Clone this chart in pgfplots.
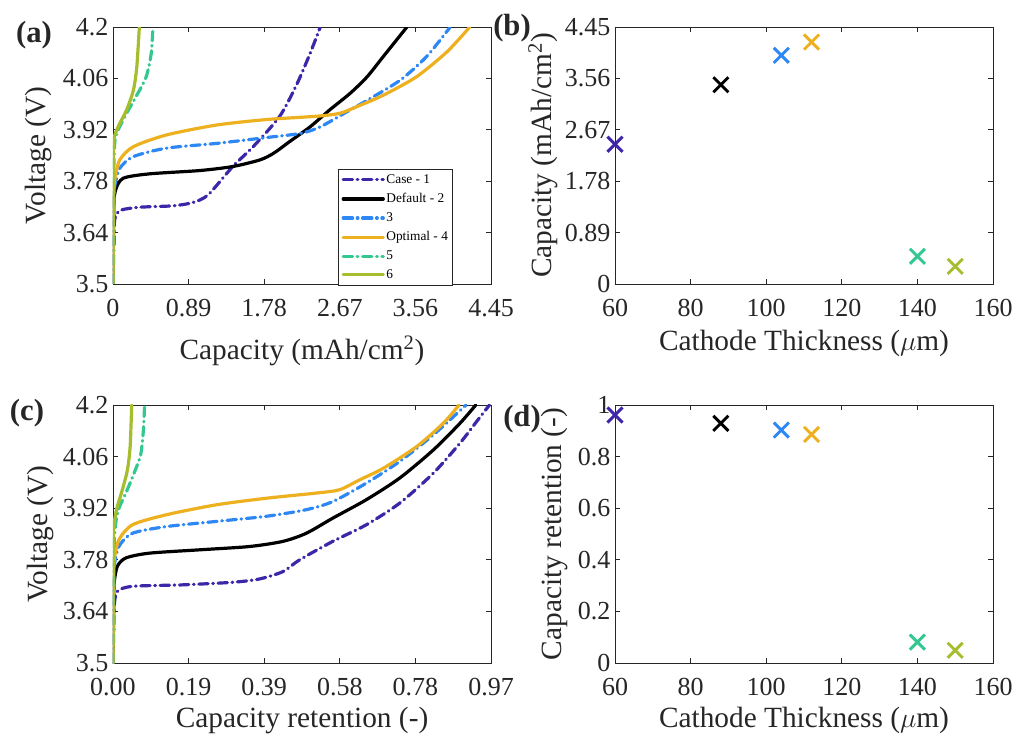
\documentclass[border=0pt]{standalone}
\usepackage{fontspec}
\setmainfont{Liberation Serif}
\usepackage{pgfplots}
\pgfplotsset{compat=1.18}

\definecolor{cOne}{RGB}{62,38,168}
\definecolor{cThree}{RGB}{45,135,245}
\definecolor{cFour}{RGB}{237,177,32}
\definecolor{cFive}{RGB}{52,200,145}
\definecolor{cSix}{RGB}{166,190,45}
\definecolor{axgray}{RGB}{38,38,38}

\pgfplotsset{
  panel/.style={
    scale only axis, width=283.5pt, height=192.75pt,
    axis line style={axgray, line width=0.6pt},
    tick align=inside, major tick length=4pt,
    tick style={axgray, line width=0.6pt},
    tick label style={font=\fontsize{19.5}{22}\selectfont, text=axgray},
    xticklabel style={yshift=-8pt},
    /pgf/number format/assume math mode=true,
    label style={font=\fontsize{22}{26}\selectfont, text=axgray},
  },
  vline/.style={line join=round, line cap=round, smooth, tension=0.45, line width=2.4pt},
  vdash/.style={line join=round, line cap=round, smooth, tension=0.45,
    dash pattern=on 7pt off 3.5pt on 0.5pt off 3.5pt, line width=2.4pt},
  xmark/.style={only marks, mark=x, mark size=8pt, line width=2.2pt},
}

\begin{document}
\begin{tikzpicture}
\useasboundingbox (0,0) rectangle (762pt,551.25pt);

% (a) voltage vs capacity
\begin{axis}[panel, at={(84.75pt,338.25pt)}, anchor=south west,
  xmin=0, xmax=4.45, ymin=3.5, ymax=4.2,
  xtick={0,0.89,1.78,2.67,3.56,4.45}, xticklabels={0,0.89,1.78,2.67,3.56,4.45},
  ytick={3.5,3.64,3.78,3.92,4.06,4.2}, yticklabels={3.5,3.64,3.78,3.92,4.06,4.2},
  xlabel={Capacity (mAh/cm\textsuperscript{2})},
  ylabel={Voltage (V)},
  xlabel style={at={(axis description cs:0.5,-0.292)}, anchor=base},
  ylabel style={at={(axis description cs:-0.196,0.5)}, anchor=center},
  legend style={at={(0.595,0.447)}, anchor=north west, draw=axgray, line width=0.6pt,
    font=\fontsize{10}{12}\selectfont, row sep=3.6pt, inner sep=2.5pt,
    nodes={inner sep=1.2pt}},
  legend cell align=left,
  legend image code/.code={\draw[#1] (0pt,0pt) -- (30pt,0pt);},
]
\addplot[vdash, draw=cOne] coordinates {
 (0,3.5) (0.01,3.60) (0.02,3.675) (0.08,3.700) (0.31,3.709) (0.71,3.713) (0.94,3.722)
 (1.12,3.743) (1.41,3.820) (1.65,3.874) (1.96,3.956) (2.16,4.042) (2.32,4.128) (2.44,4.200)};
\addlegendentry{Case - 1}
\addplot[vline, draw=black] coordinates {
 (0,3.5) (0.01,3.71) (0.03,3.756) (0.12,3.788) (0.43,3.800) (1.02,3.809) (1.41,3.820)
 (1.73,3.838) (1.89,3.856) (2.08,3.888) (2.32,3.928) (2.55,3.974) (2.79,4.019)
 (2.99,4.064) (3.18,4.119) (3.46,4.200)};
\addlegendentry{Default - 2}
\addplot[vdash, draw=cThree] coordinates {
 (0,3.5) (0.01,3.72) (0.02,3.765) (0.08,3.815) (0.24,3.847) (0.63,3.870) (1.22,3.883)
 (1.81,3.899) (2.20,3.910) (2.44,3.928) (2.79,3.974) (2.99,4.000) (3.38,4.055)
 (3.69,4.119) (3.97,4.200)};
\addlegendentry{3}
\addplot[vline, draw=cFour] coordinates {
 (0,3.5) (0.01,3.74) (0.02,3.784) (0.08,3.838) (0.24,3.874) (0.63,3.906) (1.22,3.933)
 (1.81,3.948) (2.40,3.957) (2.67,3.965) (2.87,3.983) (3.18,4.014) (3.57,4.064)
 (3.93,4.132) (4.20,4.200)};
\addlegendentry{Optimal - 4}
\addplot[vdash, draw=cFive] coordinates {
 (0,3.5) (0.005,3.75) (0.02,3.883) (0.06,3.919) (0.16,3.965) (0.27,4.010) (0.39,4.064)
 (0.45,4.128) (0.47,4.200)};
\addlegendentry{5}
\addplot[vline, draw=cSix] coordinates {
 (0,3.5) (0.004,3.80) (0.01,3.892) (0.06,3.928) (0.16,3.974) (0.24,4.028) (0.28,4.091)
 (0.31,4.200)};
\addlegendentry{6}
\end{axis}

% (b) capacity vs thickness
\begin{axis}[panel, at={(461.25pt,338.25pt)}, anchor=south west,
  xmin=60, xmax=160, ymin=0, ymax=4.45,
  xtick={60,80,100,120,140,160},
  ytick={0,0.89,1.78,2.67,3.56,4.45}, yticklabels={0,0.89,1.78,2.67,3.56,4.45},
  xlabel={Cathode Thickness ($\mu$m)},
  ylabel={Capacity (mAh/cm\textsuperscript{2})},
  xlabel style={at={(axis description cs:0.5,-0.257)}, anchor=base},
  ylabel style={at={(axis description cs:-0.19,0.5)}, anchor=center},
  clip=false,
]
\addplot[xmark, cOne] coordinates {(60,2.42)};
\addplot[xmark, black] coordinates {(88,3.45)};
\addplot[xmark, cThree] coordinates {(104,3.96)};
\addplot[xmark, cFour] coordinates {(112,4.19)};
\addplot[xmark, cFive] coordinates {(140,0.48)};
\addplot[xmark, cSix] coordinates {(150,0.305)};
\end{axis}

% (c) voltage vs capacity retention
\begin{axis}[panel, at={(84.75pt,54pt)}, anchor=south west, height=193.5pt,
  xmin=0, xmax=0.97, ymin=3.5, ymax=4.2,
  xtick={0,0.194,0.388,0.582,0.776,0.97}, xticklabels={0.00,0.19,0.39,0.58,0.78,0.97},
  ytick={3.5,3.64,3.78,3.92,4.06,4.2}, yticklabels={3.5,3.64,3.78,3.92,4.06,4.2},
  xlabel={Capacity retention (-)},
  ylabel={Voltage (V)},
  xlabel style={at={(axis description cs:0.5,-0.249)}, anchor=base},
  ylabel style={at={(axis description cs:-0.193,0.5)}, anchor=center},
]
\addplot[vdash, draw=cOne] coordinates {
 (0,3.5) (0.002,3.60) (0.003,3.654) (0.011,3.694) (0.05,3.708) (0.178,3.712) (0.307,3.719)
 (0.376,3.728) (0.436,3.748) (0.479,3.780) (0.564,3.830) (0.650,3.875) (0.736,3.934)
 (0.822,4.015) (0.890,4.096) (0.933,4.155) (0.966,4.200)};
\addplot[vline, draw=black] coordinates {
 (0,3.5) (0.002,3.66) (0.003,3.717) (0.011,3.762) (0.033,3.785) (0.093,3.798) (0.221,3.807)
 (0.350,3.816) (0.436,3.830) (0.496,3.852) (0.564,3.893) (0.650,3.943) (0.736,4.002)
 (0.822,4.078) (0.890,4.150) (0.931,4.200)};
\addplot[vdash, draw=cThree] coordinates {
 (0,3.5) (0.002,3.72) (0.003,3.762) (0.015,3.816) (0.05,3.852) (0.136,3.870) (0.264,3.884)
 (0.393,3.898) (0.496,3.916) (0.564,3.938) (0.650,3.988) (0.736,4.047) (0.822,4.119)
 (0.906,4.200)};
\addplot[vline, draw=cFour] coordinates {
 (0,3.5) (0.002,3.74) (0.003,3.780) (0.015,3.834) (0.05,3.875) (0.136,3.902) (0.264,3.929)
 (0.393,3.947) (0.521,3.961) (0.581,3.970) (0.633,3.997) (0.693,4.028) (0.779,4.087)
 (0.847,4.150) (0.888,4.200)};
\addplot[vdash, draw=cFive] coordinates {
 (0,3.5) (0.001,3.75) (0.005,3.861) (0.014,3.916) (0.033,3.961) (0.054,4.015) (0.071,4.065)
 (0.078,4.132) (0.081,4.200)};
\addplot[vline, draw=cSix] coordinates {
 (0,3.5) (0.0005,3.80) (0.001,3.861) (0.009,3.916) (0.024,3.970) (0.037,4.024) (0.044,4.087)
 (0.048,4.200)};
\end{axis}

% (d) capacity retention vs thickness
\begin{axis}[panel, at={(461.25pt,54pt)}, anchor=south west, height=193.5pt,
  xmin=60, xmax=160, ymin=0, ymax=1,
  xtick={60,80,100,120,140,160},
  ytick={0,0.2,0.4,0.6,0.8,1}, yticklabels={0,0.2,0.4,0.6,0.8,1},
  xlabel={Cathode Thickness ($\mu$m)},
  ylabel={Capacity retention (-)},
  xlabel style={at={(axis description cs:0.5,-0.249)}, anchor=base},
  ylabel style={at={(axis description cs:-0.159,0.5)}, anchor=center},
  clip=false,
]
\addplot[xmark, cOne] coordinates {(60,0.961)};
\addplot[xmark, black] coordinates {(88,0.929)};
\addplot[xmark, cThree] coordinates {(104,0.903)};
\addplot[xmark, cFour] coordinates {(112,0.886)};
\addplot[xmark, cFive] coordinates {(140,0.081)};
\addplot[xmark, cSix] coordinates {(150,0.049)};
\end{axis}

\node[font=\bfseries\fontsize{23}{26}\selectfont, text=axgray] at (25.5pt,525pt) {(a)};
\node[font=\bfseries\fontsize{23}{26}\selectfont, text=axgray] at (384pt,529.9pt) {(b)};
\node[font=\bfseries\fontsize{23}{26}\selectfont, text=axgray] at (20.25pt,241.5pt) {(c)};
\node[font=\bfseries\fontsize{23}{26}\selectfont, text=axgray] at (391.5pt,237pt) {(d)};
\end{tikzpicture}
\end{document}
